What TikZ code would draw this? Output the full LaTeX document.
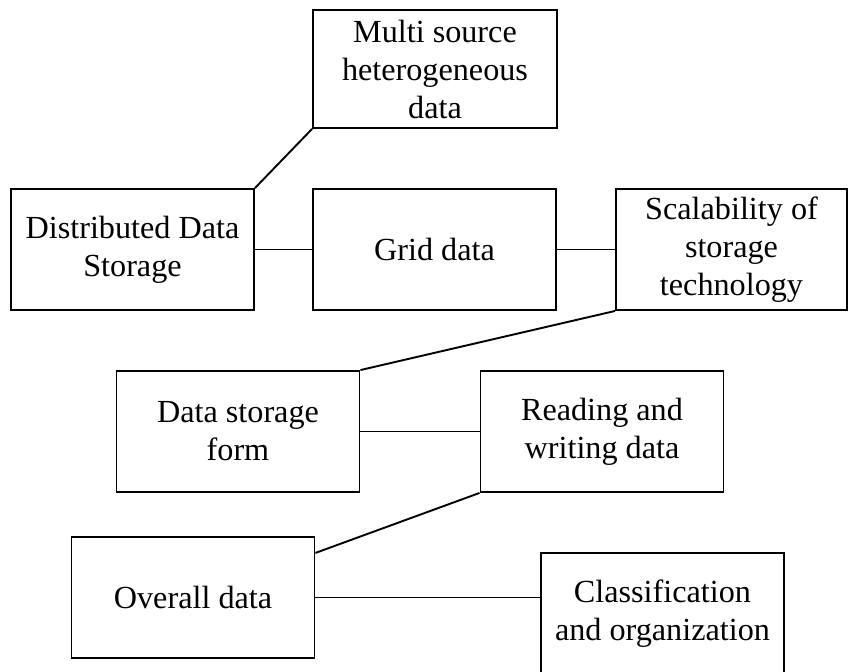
\documentclass[tikz,border=0pt]{standalone}
\usepackage{fontspec}
\setmainfont{Liberation Serif}
\usepackage{tikz}
\tikzstyle{block} = [draw,rectangle,inner sep=0mm,align=center,minimum width=121.5pt,minimum height=60.5pt]

\begin{document}
\begin{tikzpicture}[x=0.5pt,y=-0.5pt,line width=0.95pt,font={\fontsize{16.1}{19}\selectfont}]
\useasboundingbox (0,0) rectangle (848,671);

\node[block,minimum width=122pt,minimum height=59pt] (multi) at (435,69) {Multi source\\heterogeneous\\data};
\node[block] (dds)     at (132.5,249.5) {Distributed Data\\Storage};
\node[block] (grid)    at (434.5,249.5) {Grid data};
\node[block,minimum width=115.5pt] (scal) at (731.5,249.5) {Scalability of\\storage\\technology};
\node[block] (form)    at (238,431.5)   {Data storage\\form};
\node[block] (rw)      at (602,431.5)   {Reading and\\writing data};
\node[block] (overall) at (193,597.5)   {Overall data};
\node[block] (cls)     at (662.5,613.5) {Classification\\and organization};

\path
    (dds.north east) edge (multi.south west)
    (dds)            edge (grid)
    (grid)           edge (scal)
    (scal.south west) edge (form.north east)
    (form)           edge (rw)
    (rw.south west)  edge (overall.20.6)
    (overall.east)   edge (overall.east -| cls.west);

\end{tikzpicture}
\end{document}
